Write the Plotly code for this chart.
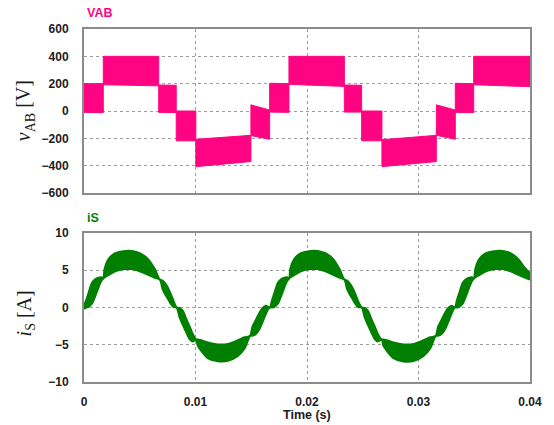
import plotly.graph_objects as go

# ---- Inverter output voltage v_AB: PWM bands between adjacent levels (ms, V) ----
seg_start_ms = [0.0, 1.73, 6.7, 8.27, 10.03, 14.97, 16.65, 18.38, 23.35, 24.9, 26.72, 31.6, 33.3, 34.95]
seg_end_ms = [1.73, 6.7, 8.27, 10.03, 14.97, 16.65, 18.38, 23.35, 24.9, 26.72, 31.6, 33.3, 34.95, 40.0]
seg_top_start = [200, 400, 190, 0, -207, 45, 203, 400, 190, 0, -210, 45, 203, 400]
seg_top_end = [200, 400, 188, 0, -178, 7, 200, 400, 188, 0, -178, 7, 200, 400]
seg_bot_start = [-10, 192, -10, -218, -407, -180, -8, 195, -8, -218, -407, -178, -10, 192]
seg_bot_end = [-12, 184, -12, -218, -370, -207, -10, 180, -8, -218, -370, -207, -12, 178]

# ---- Source current i_S: upper / lower envelope of the ripple band (ms, A) ----
is_t_ms = [0.0, 0.2, 0.42, 0.71, 1.0, 1.3, 1.55, 1.72,
           1.85, 2.2, 2.8, 3.7, 4.3, 5.0, 5.74, 6.34, 6.8,
           7.05, 7.3, 7.55, 7.8, 8.05, 8.3,
           8.57, 8.85, 9.16, 9.46, 9.75, 10.05,
           10.2, 10.5, 11.1, 12.0, 12.9, 13.8, 14.4, 14.9,
           15.1, 15.4, 15.7, 16.0, 16.3, 16.65,
           16.87, 17.09, 17.38, 17.67, 17.97, 18.22, 18.4,
           18.5, 18.85, 19.45, 20.35, 20.95, 21.65, 22.35, 22.9, 23.35,
           23.6, 23.85, 24.1, 24.35, 24.6, 24.9,
           25.17, 25.45, 25.76, 26.06, 26.35, 26.7,
           26.85, 27.15, 27.75, 28.65, 29.55, 30.45, 31.05, 31.55,
           31.75, 32.05, 32.35, 32.65, 32.95, 33.25,
           33.45, 33.67, 33.96, 34.25, 34.55, 34.8, 34.97,
           35.1, 35.45, 36.05, 36.95, 37.55, 38.25, 38.95, 39.5, 40.0]
is_upper = [0.3, 1.0, 2.0, 3.3, 3.8, 4.0, 4.05, 3.9,
            5.2, 6.5, 7.3, 7.6, 7.6, 7.3, 6.5, 5.2, 3.75,
            3.6, 3.2, 2.6, 1.75, 0.8, 0.0,
            -0.05, -0.4, -1.5, -2.5, -3.55, -4.3,
            -4.3, -4.4, -4.7, -4.95, -4.9, -4.4, -4.0, -3.8,
            -2.6, -1.7, -0.8, -0.1, 0.25, 0.0,
            1.0, 2.0, 3.3, 3.8, 4.0, 4.05, 3.9,
            5.2, 6.5, 7.3, 7.6, 7.6, 7.3, 6.5, 5.2, 3.75,
            3.6, 3.2, 2.6, 1.75, 0.8, 0.0,
            -0.05, -0.4, -1.5, -2.5, -3.55, -4.3,
            -4.3, -4.4, -4.7, -4.95, -4.9, -4.4, -4.0, -3.8,
            -2.6, -1.7, -0.8, -0.1, 0.25, 0.0,
            1.0, 2.0, 3.3, 3.8, 4.0, 4.05, 3.9,
            5.2, 6.5, 7.3, 7.6, 7.6, 7.3, 6.5, 5.4, 4.6]
is_lower = [-0.2, 0.0, 0.1, 0.5, 1.5, 2.7, 3.55, 3.9,
            4.05, 4.35, 4.85, 5.15, 5.15, 4.85, 4.4, 4.0, 3.75,
            2.45, 1.7, 1.1, 0.45, 0.05, 0.0,
            -1.3, -2.3, -3.3, -4.2, -4.55, -4.3,
            -5.1, -5.8, -6.8, -7.2, -7.15, -6.5, -5.5, -3.8,
            -3.8, -3.6, -3.0, -2.0, -0.9, 0.0,
            0.0, 0.1, 0.5, 1.5, 2.7, 3.55, 3.9,
            4.05, 4.35, 4.85, 5.15, 5.15, 4.85, 4.4, 4.0, 3.75,
            2.45, 1.7, 1.1, 0.45, 0.05, 0.0,
            -1.3, -2.3, -3.3, -4.2, -4.55, -4.3,
            -5.1, -5.8, -6.8, -7.25, -7.2, -6.5, -5.5, -3.8,
            -3.8, -3.6, -3.0, -2.0, -0.9, 0.0,
            0.0, 0.1, 0.5, 1.5, 2.7, 3.55, 3.9,
            4.05, 4.35, 4.85, 5.15, 5.15, 4.85, 4.4, 4.05, 3.75]

x_tickvals = [0, 0.01, 0.02, 0.03, 0.04]
x_ticktext = ["0", "0.01", "0.02", "0.03", "0.04"]
v_tickvals = [-600, -400, -200, 0, 200, 400, 600]
i_tickvals = [-10, -5, 0, 5, 10]

PINK = "#ff0482"
GREEN = "#007f00"
FRAME = "#8c8c8c"
GRID = "#9c9c9c"
TXT = "#1c1c1c"

fig = go.Figure()

# voltage bands, one filled quadrilateral per switching interval
for t0, t1, a0, a1, b0, b1 in zip(seg_start_ms, seg_end_ms, seg_top_start,
                                  seg_top_end, seg_bot_start, seg_bot_end):
    fig.add_trace(go.Scatter(
        x=[t0 / 1000, t1 / 1000, t1 / 1000, t0 / 1000, t0 / 1000],
        y=[a0, a1, b1, b0, a0],
        mode="lines", fill="toself", fillcolor=PINK,
        line=dict(color=PINK, width=1),
        xaxis="x2", yaxis="y2", showlegend=False, hoverinfo="skip"))

# current ripple band
t_s = [t / 1000 for t in is_t_ms]
fig.add_trace(go.Scatter(x=t_s, y=is_lower, mode="lines",
                         line=dict(color=GREEN, width=2, shape="spline", smoothing=0.8),
                         xaxis="x", yaxis="y", showlegend=False, hoverinfo="skip"))
fig.add_trace(go.Scatter(x=t_s, y=is_upper, mode="lines", fill="tonexty",
                         fillcolor=GREEN,
                         line=dict(color=GREEN, width=2, shape="spline", smoothing=0.8),
                         xaxis="x", yaxis="y", showlegend=False, hoverinfo="skip"))

tickfont = dict(family="Liberation Sans, Arial, sans-serif", size=12, color=TXT, weight="bold")
common_axis = dict(showline=True, mirror=True, linecolor=FRAME, linewidth=2,
                   showgrid=True, gridcolor=GRID, gridwidth=1, griddash="dot",
                   zeroline=False, ticks="", tickfont=tickfont)

fig.update_layout(
    width=554, height=425,
    margin=dict(l=84, r=22, t=29, b=43),
    paper_bgcolor="white", plot_bgcolor="white",
    xaxis=dict(domain=[0, 1], anchor="y", range=[0, 0.04], tickvals=x_tickvals,
               ticktext=x_ticktext, ticklabelstandoff=8, **common_axis),
    yaxis=dict(domain=[0, 0.4221], anchor="x", range=[-10, 10], tickvals=i_tickvals,
               ticklabelstandoff=11, **common_axis),
    xaxis2=dict(domain=[0, 1], anchor="y2", range=[0, 0.04], tickvals=x_tickvals,
                showticklabels=False, **common_axis),
    yaxis2=dict(domain=[0.5354, 1], anchor="x2", range=[-600, 600], tickvals=v_tickvals,
                ticklabelstandoff=11, **common_axis),
)

serif = dict(family="Liberation Serif, Times New Roman, serif", size=20, color=TXT)
bold = dict(family="Liberation Sans, Arial, sans-serif", size=12.5, weight="bold")

fig.add_annotation(text="VAB", xref="paper", yref="paper", x=0.002, y=1.046,
                   xanchor="left", yanchor="middle", showarrow=False,
                   font=dict(color=PINK, **bold))
fig.add_annotation(text="iS", xref="paper", yref="paper", x=0.002, y=0.4637,
                   xanchor="left", yanchor="middle", showarrow=False,
                   font=dict(color=GREEN, **bold))
fig.add_annotation(text="<i>v</i><sub>AB</sub> [V]", xref="paper", yref="paper",
                   x=-0.1317, y=0.768, xanchor="center", yanchor="middle",
                   textangle=-90, showarrow=False, font=serif)
fig.add_annotation(text="<i>i</i><sub>S</sub> [A]", xref="paper", yref="paper",
                   x=-0.1317, y=0.195, xanchor="center", yanchor="middle",
                   textangle=-90, showarrow=False, font=serif)
fig.add_annotation(text="Time (s)", xref="paper", yref="paper",
                   x=0.5, y=-0.0935, xanchor="center", yanchor="middle",
                   showarrow=False, font=dict(color=TXT, **bold))

fig.write_html("out.html")
